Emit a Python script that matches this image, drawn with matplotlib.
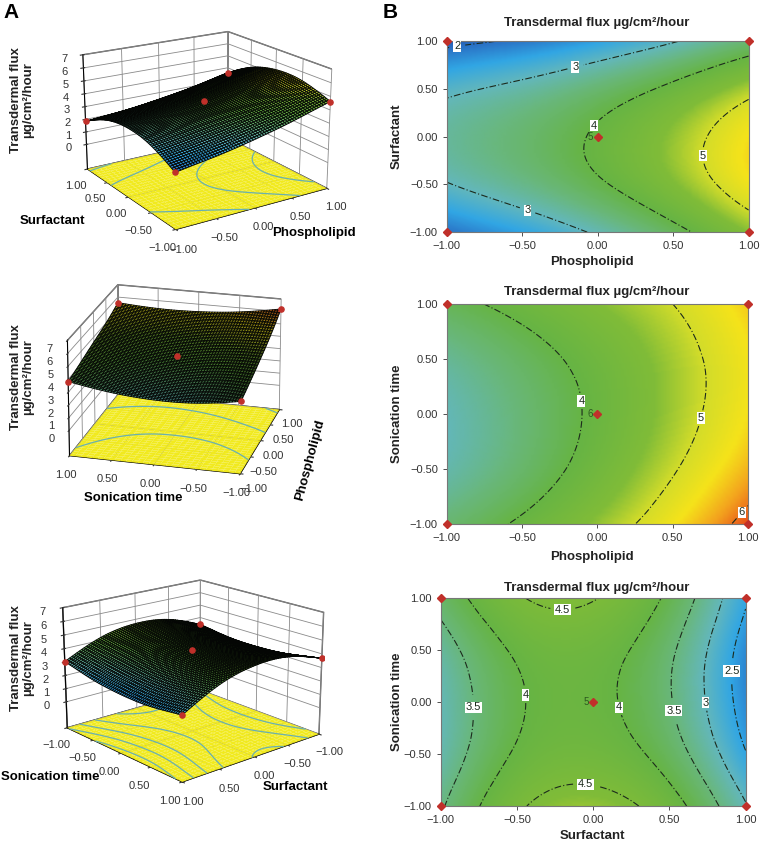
import numpy as np
import matplotlib
matplotlib.use("Agg")
import matplotlib.pyplot as plt
import matplotlib.tri as mtri
from matplotlib.colors import LinearSegmentedColormap, Normalize
from matplotlib.ticker import FuncFormatter

plt.rcParams['font.family'] = ['Liberation Sans', 'DejaVu Sans']
plt.rcParams['grid.color'] = '#8a8a8a'
plt.rcParams['grid.linewidth'] = 0.6

# coded factor levels (-1..1)
coded = [-1.0, -0.5, 0.0, 0.5, 1.0]

# transdermal flux
# rows: second factor -1 -> 1, cols: first factor -1 -> 1
flux_phos_surf = [
    [2.05, 2.51, 3.09, 3.80, 4.62],
    [2.97, 3.38, 3.91, 4.56, 5.33],
    [3.25, 3.60, 4.08, 4.68, 5.40],
    [2.87, 3.17, 3.60, 4.15, 4.81],
    [1.84, 2.09, 2.47, 2.96, 3.58],
]
flux_phos_son = [
    [3.60, 4.10, 4.68, 5.35, 6.20],
    [3.13, 3.65, 4.27, 4.95, 5.67],
    [3.05, 3.56, 4.12, 4.75, 5.40],
    [3.30, 3.74, 4.23, 4.77, 5.36],
    [3.83, 4.20, 4.60, 5.00, 5.55],
]
flux_surf_son = [
    [3.44, 4.42, 4.68, 4.22, 3.04],
    [3.13, 4.06, 4.26, 3.76, 2.53],
    [3.07, 3.94, 4.10, 3.54, 2.27],
    [3.25, 4.07, 4.19, 3.59, 2.27],
    [3.68, 4.45, 4.52, 3.89, 2.56],
]

contour_levels = [[2, 3, 4, 5], [4, 5, 6], [2.5, 3, 3.5, 4, 4.5]]
label_spots = [
    [(-0.93, 0.93), (-0.15, 0.74), (-0.09, 0.2), (0.67, -0.2), (-0.45, -0.7)],
    [(-0.1, 0.12), (0.72, -0.05), (0.95, -0.88)],
    [(-0.2, 0.93), (-0.79, -0.05), (-0.44, 0.07), (0.17, -0.05), (0.53, -0.08),
     (0.76, 0.0), (0.96, 0.3), (-0.05, -0.8)],
]
design_x = [-1, 1, -1, 1, 0]
design_y = [-1, -1, 1, 1, 0]
center_reps = ['5', '6', '5']

xnames = ['Phospholipid', 'Phospholipid', 'Surfactant']
ynames = ['Surfactant', 'Sonication time', 'Sonication time']
title = 'Transdermal flux \u00b5g/cm\u00b2/hour'

# colour ramp of the response, low (blue) to high (red)
ramp_vals = [1.5, 2.0, 2.5, 3.0, 3.5, 4.0, 4.6, 5.0, 5.4, 5.8, 6.2, 6.6]
ramp_cols = ['#1a3a90', '#2a70c4', '#31a6e4', '#63b7bb', '#69b77a', '#66b444',
             '#80bc38', '#d2dc2a', '#f5e31a', '#f3a21e', '#e8521a', '#d42c1a']
norm = Normalize(ramp_vals[0], ramp_vals[-1])
cmap = LinearSegmentedColormap.from_list(
    'dx', [(float(norm(v)), c) for v, c in zip(ramp_vals, ramp_cols)])
fmt2 = FuncFormatter(lambda v, p: ('%.2f' % v).replace('-', '\u2212'))

fig = plt.figure(figsize=(7.6, 8.44), dpi=100)


def smooth(grid, n=121):
    gx, gy = np.meshgrid(coded, coded)
    tri = mtri.Triangulation(gx.ravel(), gy.ravel())
    interp = mtri.CubicTriInterpolator(tri, np.array(grid).ravel(), kind='min_E')
    f = np.linspace(-1, 1, n)
    fx, fy = np.meshgrid(f, f)
    fz = interp(fx, fy)
    return fx, fy, np.ma.filled(fz, np.nan)


grids = [flux_phos_surf, flux_phos_son, flux_surf_son]

# ---------- B: contour plots ----------
rects2d = [[0.588, 0.725, 0.397, 0.226],
           [0.588, 0.379, 0.396, 0.261],
           [0.580, 0.045, 0.401, 0.246]]
title_y = [23, 292, 588]
xlab_y = [262, 557, 836]
ylab_y = [136, 414, 702]
for k in range(3):
    fx, fy, fz = smooth(grids[k])
    ax = fig.add_axes(rects2d[k])
    ax.imshow(fz, origin='lower', extent=(-1, 1, -1, 1), aspect='auto',
              cmap=cmap, norm=norm, interpolation='bilinear')
    cs = ax.contour(fx, fy, fz, levels=contour_levels[k], colors='#1c2a1c',
                    linewidths=0.8, linestyles=[(0, (6, 2, 1, 2))])
    txts = ax.clabel(cs, fmt='%g', inline=True, fontsize=8,
                     manual=label_spots[k])
    for t in txts:
        t.set_rotation(0)
        t.set_bbox(dict(fc='white', ec='none', pad=0.6))
    ax.plot(design_x, design_y, 'D', color='#c0302a', ms=4, clip_on=False, zorder=5)
    ax.text(-0.03, 0, center_reps[k], fontsize=7, color='#2c5a20',
            ha='right', va='center', zorder=6)
    ax.set_xlim(-1, 1)
    ax.set_ylim(-1, 1)
    ax.set_xticks(coded)
    ax.set_yticks(coded)
    ax.xaxis.set_major_formatter(fmt2)
    ax.yaxis.set_major_formatter(fmt2)
    ax.tick_params(labelsize=8, colors='#333333', length=3, width=0.6)
    for s in ax.spines.values():
        s.set_color('#777777')
        s.set_linewidth(0.8)
    fig.text(597 / 760, 1 - title_y[k] / 844, title, fontsize=9.5, fontweight='bold',
             ha='center', va='center', color='#222222')
    fig.text(592 / 760, 1 - xlab_y[k] / 844, xnames[k], fontsize=9.5, fontweight='bold',
             ha='center', va='center', color='#222222')
    fig.text(397 / 760, 1 - ylab_y[k] / 844, ynames[k], fontsize=9.5, fontweight='bold',
             ha='center', va='center', rotation=90, color='#222222')

# ---------- A: response surfaces ----------
rects3d = [[0.004, 0.692, 0.52, 0.32],
           [-0.032, 0.39, 0.52, 0.32],
           [-0.012, 0.04, 0.52, 0.32]]
views = [(19, -123), (21, -165), (18, 49)]
zooms = [1.0, 0.98, 1.03]
focals = [0.7, 1.6, 0.75]
zmin = -2
for k in range(3):
    fx, fy, fz = smooth(grids[k], n=61)
    ax = fig.add_axes(rects3d[k], projection='3d', computed_zorder=False)
    ax.set_facecolor('none')
    ax.set_proj_type('persp', focal_length=focals[k])
    ax.view_init(elev=views[k][0], azim=views[k][1])
    ax.plot_surface(fx, fy, np.full_like(fz, zmin), color='#f1ea1e', shade=False,
                    linewidth=0, zorder=1)
    ax.contour(fx, fy, fz, levels=contour_levels[k], zdir='z', offset=zmin,
               colors='#6ab0b0', linewidths=0.9, zorder=2)
    ax.plot_surface(fx, fy, fz, facecolors=cmap(norm(fz)), edgecolor='#040604',
                    linewidth=0.65, rstride=1, cstride=1, shade=False, zorder=3)
    g = np.array(grids[k])
    dz = [g[coded.index(b), coded.index(a)] for a, b in zip(design_x, design_y)]
    ax.scatter(design_x, design_y, dz, color='#c0302a', s=14, depthshade=False, zorder=4)
    ax.set_xlim(-1, 1)
    ax.set_ylim(-1, 1)
    ax.set_zlim(zmin, 7)
    ax.set_xticks(coded)
    ax.set_yticks(coded)
    ax.set_zticks(range(8))
    ax.xaxis.set_major_formatter(fmt2)
    ax.yaxis.set_major_formatter(fmt2)
    ax.tick_params(labelsize=8, colors='#333333', pad=0)
    for a in (ax.xaxis, ax.yaxis, ax.zaxis):
        a.set_pane_color((1, 1, 1, 1))
        a.pane.set_edgecolor('#555555')
    ax.set_box_aspect((1, 1, 0.7), zoom=zooms[k])

fig.text(0.005, 0.985, 'A', fontsize=15, fontweight='bold', va='center')
fig.text(0.503, 0.985, 'B', fontsize=15, fontweight='bold', va='center')

zl = [100, 377, 658]
for k in range(3):
    fig.text(22 / 760, 1 - zl[k] / 844, 'Transdermal flux\n\u00b5g/cm\u00b2/hour',
             fontsize=9.5, fontweight='bold', rotation=90, ha='center', va='center',
             linespacing=1.1, color='#222222')
fig.text(52 / 760, 1 - 221 / 844, 'Surfactant', fontsize=9.5, fontweight='bold', ha='center', va='center')
fig.text(314 / 760, 1 - 233 / 844, 'Phospholipid', fontsize=9.5, fontweight='bold', ha='center', va='center')
fig.text(133 / 760, 1 - 498 / 844, 'Sonication time', fontsize=9.5, fontweight='bold', ha='center', va='center')
fig.text(310 / 760, 1 - 460 / 844, 'Phospholipid', fontsize=9.5, fontweight='bold', ha='center', va='center', rotation=75)
fig.text(50 / 760, 1 - 777 / 844, 'Sonication time', fontsize=9.5, fontweight='bold', ha='center', va='center')
fig.text(295 / 760, 1 - 787 / 844, 'Surfactant', fontsize=9.5, fontweight='bold', ha='center', va='center')

fig.savefig('out.png', dpi=100)
